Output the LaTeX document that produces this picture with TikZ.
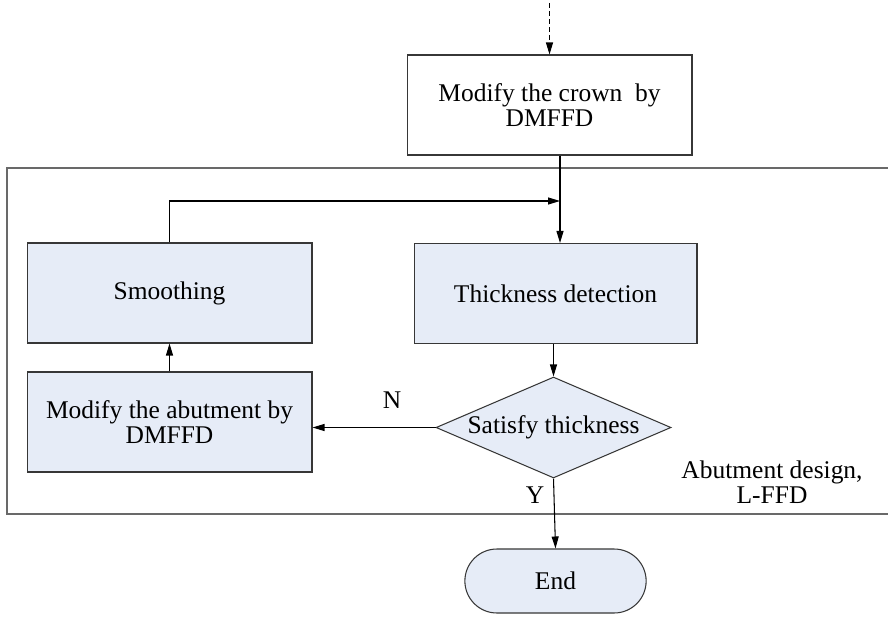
\documentclass[tikz,border=0pt]{standalone}
\usepackage{fontspec}
\setmainfont{Liberation Serif}
\usepackage{xcolor}
\usetikzlibrary{shapes,arrows,positioning,calc,arrows.meta}
\definecolor{boxfill}{RGB}{230,236,247}
\definecolor{boxline}{RGB}{55,55,55}
\definecolor{framegray}{RGB}{105,105,105}

\begin{document}
\begin{tikzpicture}[x=0.02cm, y=-0.02cm,
    every node/.style={font=\fontsize{14.5}{14.2}\selectfont},
    plainbox/.style={draw=boxline, line width=0.6pt, minimum width=5.7cm, minimum height=2cm, align=center, inner sep=0pt},
    stepbox/.style={plainbox, fill=boxfill},
    decision/.style={draw=boxline, line width=0.6pt, fill=boxfill, diamond, aspect=2.3, minimum width=4.7cm, minimum height=2.02cm, inner sep=0pt},
    terminal/.style={draw=boxline, line width=0.6pt, fill=boxfill, rounded rectangle, minimum width=3.86cm, minimum height=1.28cm},
    link/.style={line width=0.6pt, -{Triangle[length=0.24cm,width=0.14cm]}}]
    \useasboundingbox (0,0) rectangle (888,618);

    % Frame of the abutment stage
    \draw[framegray, line width=0.7pt] (888,168) -- (7,168) -- (7,514) -- (888,514);

    % Boxes
    \node[plainbox] (crown) at (549.5,105) {Modify the crown~ by\\DMFFD};
    \node[stepbox] (smooth) at (169.5,293) {Smoothing};
    \node[stepbox, minimum width=5.66cm] (thick) at (555.5,293.5) {Thickness detection};
    \node[stepbox] (abut) at (169.5,422) {Modify the abutment by\\DMFFD};
    \node[decision] (check) at (553.5,427.5) {Satisfy thickness};
    \node[terminal] (finish) at (555.5,581) {End};

    % Labels
    \node (no) at (392,400) {N};
    \node (yes) at (535,495) {Y};
    \node[align=center] (stage) at (772,482) {Abutment design,\\L-FFD};

    % Connectors
    \coordinate (entry) at (549.5,3);
    \coordinate (join) at (560,201);
    \draw[link, dashed, dash pattern=on 0.1cm off 0.06cm] (entry) -- (crown.north);
    \draw[line width=0.6pt] (crown.south -| join) -- (join);
    \draw[link] (join) -- (join |- thick.north);
    \draw[link] (smooth.north) |- (join);
    \draw[link] (thick.south -| check.north) -- (check.north);
    \draw[link] (check.west) -- (check.west -| abut.east);
    \draw[link] (abut.north) -- (smooth.south);
    \draw[link] (check.south) -- (finish.north);
\end{tikzpicture}
\end{document}
